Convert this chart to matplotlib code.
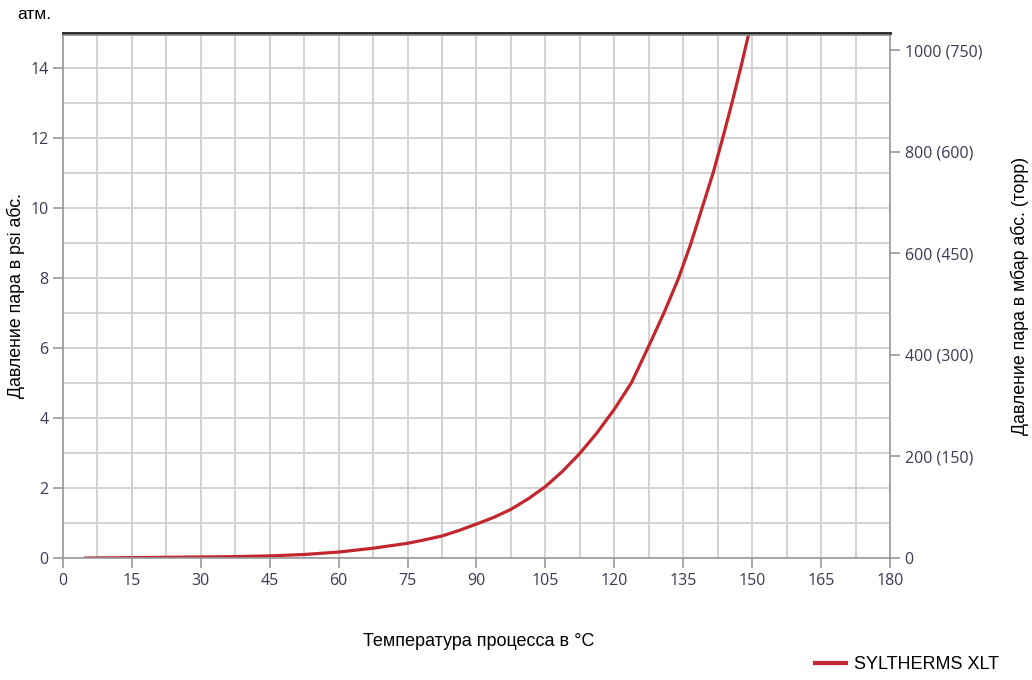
import matplotlib.pyplot as plt
from matplotlib.lines import Line2D
from matplotlib.ticker import MultipleLocator

# temperature (°C) vs vapour pressure (psi abs.)
temp_c = [5, 15, 30, 37.5, 45, 52.5, 60, 67.5, 71.25, 75, 78.75, 82.5, 86.25,
          90, 93.75, 97.5, 101.25, 105, 108.75, 112.5, 116.25, 120, 123.7,
          127.3, 130.8, 134.0, 136.7, 139.1, 141.5, 143.6, 145.6, 147.5,
          149.3, 150]
psi_abs = [0.0, 0.01, 0.03, 0.04, 0.06, 0.1, 0.17, 0.28, 0.35, 0.42, 0.52,
           0.63, 0.79, 0.97, 1.16, 1.39, 1.69, 2.04, 2.48, 2.99, 3.58, 4.25,
           5.0, 6.0, 7.0, 8.0, 9.0, 10.0, 11.0, 12.0, 13.0, 14.0, 15.0, 15.25]

x_ticks = [0, 15, 30, 45, 60, 75, 90, 105, 120, 135, 150, 165, 180]
psi_ticks = [0, 2, 4, 6, 8, 10, 12, 14]
mbar_ticks = [0, 200, 400, 600, 800, 1000]
mbar_labels = ['0', '200 (150)', '400 (300)', '600 (450)', '800 (600)',
               '1000 (750)']

PSI_TO_MBAR = 68.9476
line_color = '#c1272d'
tick_color = '#3a3a55'
grid_color = '#cfcfcf'

fig = plt.figure(figsize=(10.32, 6.8), dpi=100)
ax = fig.add_axes([0.061, 0.1794, 0.8014, 0.7721])

ax.plot(temp_c, psi_abs, color=line_color, lw=2.3, solid_joinstyle='round')

ax.set_xlim(0, 180)
ax.set_ylim(0, 15)
ax.set_xticks(x_ticks)
ax.set_yticks(psi_ticks)
ax.xaxis.set_minor_locator(MultipleLocator(7.5))
ax.yaxis.set_minor_locator(MultipleLocator(1))
ax.grid(which='both', color=grid_color, lw=1.3)
ax.set_axisbelow(True)
# double line along the top (atmospheric limit)
ax.axhline(14.95, color='#8a8a8a', lw=1.2, zorder=3)

for side in ['left', 'bottom', 'right']:
    ax.spines[side].set_color('#9a9a9a')
    ax.spines[side].set_linewidth(1.2)
ax.spines['top'].set_color('#222222')
ax.spines['top'].set_linewidth(2.0)

ax.tick_params(which='major', length=7, width=1.2, color='#9a9a9a',
               labelcolor=tick_color, labelsize=11.5)
ax.tick_params(which='minor', length=0)
for lbl in ax.get_xticklabels() + ax.get_yticklabels():
    lbl.set_family('Open Sans')

ax2 = ax.twinx()
ax2.set_ylim(0, 15 * PSI_TO_MBAR)
ax2.set_yticks(mbar_ticks)
ax2.set_yticklabels(mbar_labels, family='Open Sans')
ax2.tick_params(length=7, width=1.2, color='#9a9a9a', labelcolor=tick_color,
                labelsize=11.5)
for side in ax2.spines:
    ax2.spines[side].set_visible(False)

mid_y = 0.1794 + 0.7721 / 2
fig.text(0.0155, mid_y, 'Давление пара в psi абс.', rotation=90,
         va='center', ha='center', family='Liberation Sans', fontsize=12.8)
fig.text(0.9885, mid_y, 'Давление пара в мбар абс. (торр)', rotation=90,
         va='center', ha='center', family='Liberation Sans', fontsize=12.8)
fig.text(0.464, 0.056, 'Температура процесса в °C', ha='center',
         va='center', family='Liberation Sans', fontsize=13)
fig.text(0.017, 0.978, 'атм.', ha='left', va='center',
         family='Liberation Sans', fontsize=12.5)

handle = Line2D([], [], color=line_color, lw=3)
fig.legend([handle], ['SYLTHERMS XLT'], loc='lower right',
           bbox_to_anchor=(0.984, -0.014), frameon=False,
           prop={'family': 'Liberation Sans', 'size': 13},
           handlelength=1.7, handletextpad=0.45)

fig.savefig('out.png', dpi=100)
